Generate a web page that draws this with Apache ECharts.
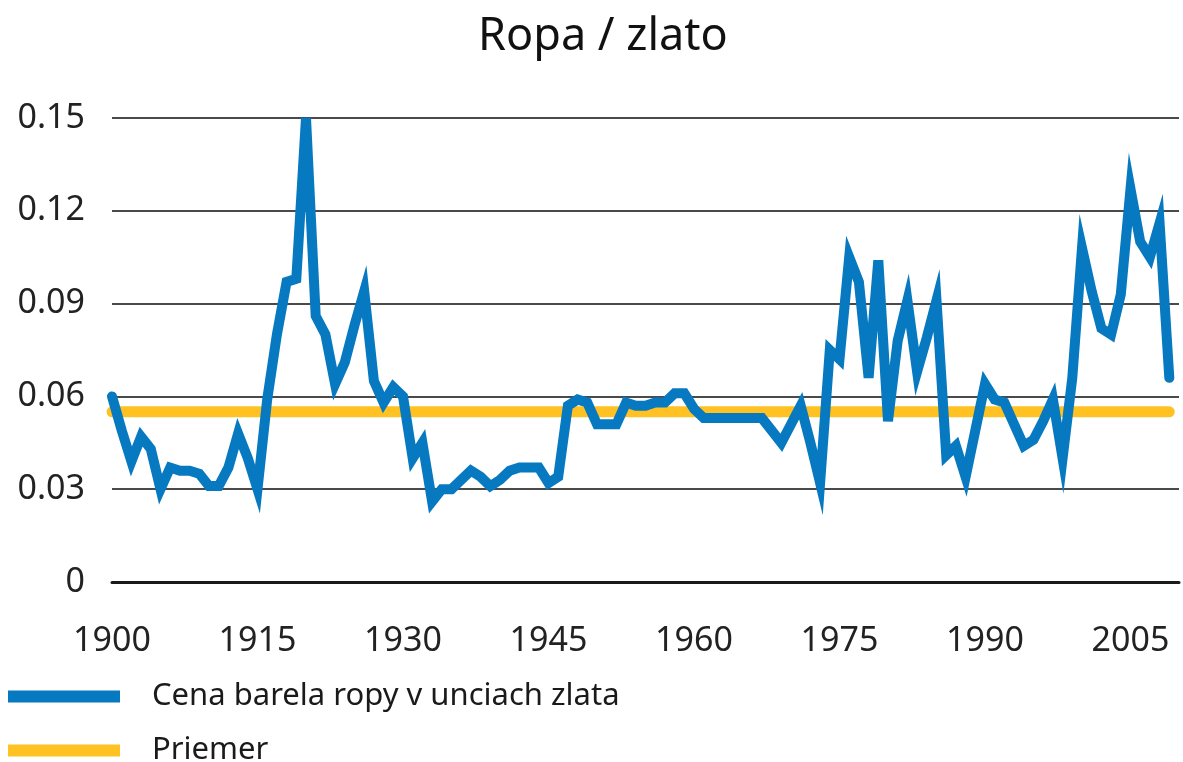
<!DOCTYPE html>
<html>
<head>
<meta charset="utf-8">
<title>Ropa / zlato</title>
<script src="https://cdn.jsdelivr.net/npm/echarts@6.0.0/dist/echarts.min.js"></script>
<style>
  html, body { margin: 0; padding: 0; background: #fff; }
  #chart { width: 1183px; height: 762px; }
</style>
</head>
<body>
<div id="chart"></div>
<script>
// cena barela ropy v unciach zlata, roky 1900 - 2009
var firstYear = 1900;
var ratio = [
  0.060, 0.049, 0.039, 0.047, 0.043, 0.030, 0.037, 0.036, 0.036, 0.035,
  0.031, 0.031, 0.037, 0.048, 0.040, 0.030, 0.059, 0.080, 0.097, 0.098,
  0.150, 0.086, 0.080, 0.064, 0.071, 0.083, 0.094, 0.065, 0.058, 0.063,
  0.060, 0.040, 0.045, 0.026, 0.030, 0.030, 0.033, 0.036, 0.034, 0.031,
  0.033, 0.036, 0.037, 0.037, 0.037, 0.032, 0.034, 0.057, 0.059, 0.058,
  0.051, 0.051, 0.051, 0.058, 0.057, 0.057, 0.058, 0.058, 0.061, 0.061,
  0.056, 0.053, 0.053, 0.053, 0.053, 0.053, 0.053, 0.053, 0.049, 0.045,
  0.051, 0.057, 0.045, 0.032, 0.075, 0.072, 0.105, 0.097, 0.066, 0.104,
  0.052, 0.078, 0.091, 0.068, 0.079, 0.091, 0.041, 0.044, 0.034, 0.049,
  0.064, 0.059, 0.058, 0.051, 0.044, 0.046, 0.052, 0.059, 0.040, 0.066,
  0.108, 0.094, 0.082, 0.080, 0.093, 0.127, 0.110, 0.105, 0.116, 0.066
];
var average = 0.055;
var seriesNames = ['Cena barela ropy v unciach zlata', 'Priemer'];

var years = [];
for (var i = 0; i < ratio.length; i++) {
  years.push(firstYear + i);
}
var lastYear = years[years.length - 1];

var labelFont = 'Liberation Sans Narrow, Noto Sans, sans-serif';

// one legend block per row
function legendRow(name, top) {
  return {
    data: [name],
    left: 8,
    top: top,
    padding: 0,
    icon: 'rect',
    itemWidth: 112,
    itemHeight: 12,
    textStyle: {
      fontFamily: 'Noto Sans',
      fontSize: 31,
      color: '#1a1a1a',
      padding: [0, 0, 0, 27]
    }
  };
}

var myChart = echarts.init(document.getElementById('chart'));
var option = {
  animation: false,
  title: {
    text: 'Ropa / zlato',
    left: 473,
    top: 10,
    textStyle: {
      fontFamily: 'Noto Sans',
      fontSize: 45,
      fontWeight: 'normal',
      color: '#111'
    }
  },
  legend: [
    legendRow(seriesNames[0], 681),
    legendRow(seriesNames[1], 735)
  ],
  grid: {
    left: 112,
    right: 4,
    top: 118,
    bottom: 180
  },
  xAxis: {
    type: 'value',
    min: 1900,
    max: 2010,
    interval: 15,
    axisLine: { show: true, lineStyle: { color: '#1a1a1a', width: 3 } },
    axisTick: { show: false },
    splitLine: { show: false },
    axisLabel: {
      margin: 42,
      showMaxLabel: false,
      fontFamily: labelFont,
      fontSize: 34,
      color: '#222',
      formatter: function (v) { return String(v); }
    }
  },
  yAxis: {
    type: 'value',
    min: 0,
    max: 0.15,
    interval: 0.03,
    axisLine: { show: false },
    axisTick: { show: false },
    splitLine: { lineStyle: { color: '#4a4a4a', width: 2 } },
    axisLabel: {
      margin: 27,
      fontFamily: labelFont,
      fontSize: 34,
      color: '#222',
      formatter: function (v) { return v === 0 ? '0' : v.toFixed(2); }
    }
  },
  series: [
    {
      name: seriesNames[1],
      type: 'line',
      symbol: 'none',
      color: '#FFC222',
      lineStyle: { width: 11, cap: 'round' },
      data: [[firstYear, average], [lastYear, average]]
    },
    {
      name: seriesNames[0],
      type: 'line',
      symbol: 'none',
      color: '#0779C1',
      lineStyle: { width: 10, cap: 'round', join: 'miter' },
      data: years.map(function (y, i) { return [y, ratio[i]]; })
    }
  ]
};
myChart.setOption(option);
</script>
</body>
</html>
